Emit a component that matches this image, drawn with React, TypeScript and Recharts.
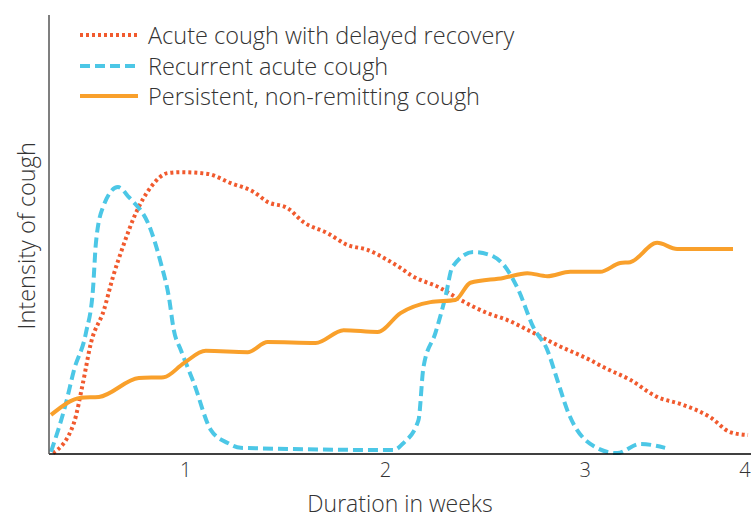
import { LineChart, Line, XAxis, YAxis } from 'recharts';

// weeks on x, relative intensity (0-100) on y
const delayedWeeks = [0.335, 0.44, 0.485, 0.525, 0.59, 0.635, 0.685, 0.75, 0.825, 0.91, 0.975, 1.11, 1.225, 1.34, 1.41, 1.51, 1.59, 1.71, 1.81, 1.91, 2.01, 2.075, 2.125, 2.275, 2.375, 2.51, 2.61, 2.74, 2.86, 3.025, 3.09, 3.225, 3.36, 3.49, 3.625, 3.725, 3.815];
const delayedValues = [0.2, 7.1, 16.2, 25.3, 32.8, 40.3, 47.2, 54.9, 60.8, 64.0, 64.2, 63.8, 61.7, 59.7, 57.4, 56.0, 52.8, 50.3, 47.6, 46.5, 44.2, 42.4, 40.8, 37.8, 35.1, 32.1, 30.5, 27.6, 24.8, 21.4, 19.8, 16.9, 13.0, 11.2, 8.4, 5.0, 4.3];

const recurrentWeeks = [0.325, 0.4, 0.44, 0.5, 0.535, 0.55, 0.585, 0.66, 0.715, 0.825, 0.875, 0.915, 0.94, 0.975, 1.04, 1.125, 1.21, 1.275, 2.04, 2.09, 2.165, 2.19, 2.25, 2.3, 2.335, 2.44, 2.525, 2.6, 2.665, 2.74, 2.81, 2.86, 2.91, 3.05, 3.16, 3.275, 3.4];
const recurrentValues = [0.5, 11.6, 19.1, 27.6, 37.4, 48.1, 56.2, 60.8, 58.5, 51.0, 43.5, 35.8, 28.2, 23.7, 16.2, 5.5, 2.5, 1.4, 0.9, 2.5, 7.7, 19.8, 27.6, 35.8, 42.6, 46.0, 45.3, 42.6, 37.4, 28.9, 23.7, 16.9, 10.0, 1.6, 0.2, 2.3, 1.4];

const persistentWeeks = [0.325, 0.475, 0.565, 0.765, 0.89, 0.99, 1.1, 1.31, 1.41, 1.65, 1.79, 1.96, 2.075, 2.225, 2.35, 2.425, 2.59, 2.71, 2.81, 2.925, 3.075, 3.175, 3.225, 3.36, 3.46, 3.74];
const persistentValues = [8.9, 12.8, 13.0, 17.3, 17.5, 20.7, 23.5, 23.2, 25.5, 25.3, 28.2, 27.8, 32.1, 34.6, 35.1, 39.0, 40.1, 41.2, 40.5, 41.5, 41.5, 43.5, 43.7, 48.1, 46.7, 46.7];

const xTicks = [1, 2, 3, 3.8];
const xTickLabels = ['1', '2', '3', '4'];

const seriesNames = ['Acute cough with delayed recovery', 'Recurrent acute cough', 'Persistent, non-remitting cough'];

const FONT = '"Open Sans", "Noto Sans", sans-serif';

function toPoints(weeks: number[], values: number[]) {
    return weeks.map((w, i) => ({ x: w, y: values[i] }));
}

const series = [
    { name: seriesNames[0], data: toPoints(delayedWeeks, delayedValues), color: '#F15A2E', dash: '3 3', width: 4 },
    { name: seriesNames[1], data: toPoints(recurrentWeeks, recurrentValues), color: '#4CC7E6', dash: '10 5', width: 4 },
    { name: seriesNames[2], data: toPoints(persistentWeeks, persistentValues), color: '#F9A02B', dash: undefined, width: 4 },
];

function CustomLegend() {
    return (
        <div style={{ position: 'absolute', left: 80, top: 20, fontFamily: FONT, fontWeight: 300 }}>
            {series.map((s) => (
                <div key={s.name} style={{ display: 'flex', alignItems: 'center', height: 30.5 }}>
                    <svg width={58} height={10} style={{ marginRight: 10 }}>
                        <line x1={0} y1={5} x2={58} y2={5} stroke={s.color} strokeWidth={s.width} strokeDasharray={s.dash} />
                    </svg>
                    <span style={{ fontSize: 23.5, color: '#333', whiteSpace: 'nowrap' }}>{s.name}</span>
                </div>
            ))}
        </div>
    );
}

export default function App() {
    return (
        <div style={{ position: 'absolute', left: 0, top: 0, width: 751, height: 518, background: '#fff' }}>
            <LineChart width={751} height={518} margin={{ top: 15, right: 0, left: 0, bottom: 0 }}>
                <XAxis
                    type="number"
                    dataKey="x"
                    domain={[0.315, 3.83]}
                    allowDataOverflow
                    ticks={xTicks}
                    tickFormatter={(v: number) => xTickLabels[xTicks.indexOf(v)]}
                    tickLine={false}
                    height={64}
                    stroke="#000"
                    strokeWidth={1.5}
                    tick={{ fill: '#333', fontSize: 20, fontFamily: FONT, fontWeight: 300 }}
                    tickMargin={3}
                    label={{ value: 'Duration in weeks', position: 'insideBottom', offset: 6, fill: '#333', fontSize: 23, fontFamily: FONT, fontWeight: 300 }}
                />
                <YAxis
                    type="number"
                    domain={[0, 100]}
                    width={49}
                    tick={false}
                    tickLine={false}
                    stroke="#555"
                    strokeWidth={1.5}
                    label={{ value: 'Intensity of cough', angle: -90, position: 'insideLeft', dx: 22, dy: 95, fill: '#333', fontSize: 23.5, fontFamily: FONT, fontWeight: 300 }}
                />
                {series.map((s) => (
                    <Line
                        key={s.name}
                        data={s.data}
                        dataKey="y"
                        name={s.name}
                        type="monotone"
                        stroke={s.color}
                        strokeWidth={s.width}
                        strokeDasharray={s.dash}
                        dot={false}
                        activeDot={false}
                        isAnimationActive={false}
                    />
                ))}
            </LineChart>
            <CustomLegend />
        </div>
    );
}
